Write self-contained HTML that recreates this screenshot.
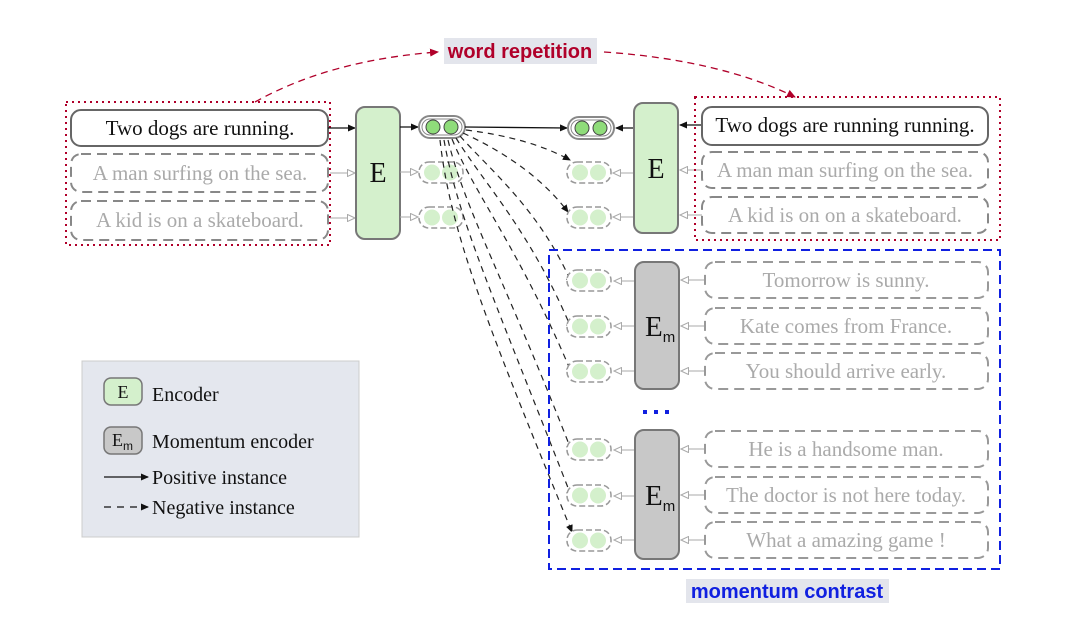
<!DOCTYPE html>
<html><head><meta charset="utf-8"><style>
html,body{margin:0;padding:0;background:#fff;}
svg{display:block;}
text{font-family:"Liberation Serif",serif;}
</style></head><body>
<svg width="1080" height="629" viewBox="0 0 1080 629" xmlns="http://www.w3.org/2000/svg">
<defs>
<marker id="ab" markerWidth="8" markerHeight="8" refX="7" refY="4" orient="auto" markerUnits="userSpaceOnUse"><path d="M0,0.5 L8,4 L0,7.5z" fill="#111"/></marker>
<marker id="ar" markerWidth="9" markerHeight="9" refX="8" refY="4.5" orient="auto" markerUnits="userSpaceOnUse"><path d="M0,0.5 L9,4.5 L0,8.5z" fill="#b0002a"/></marker>
<marker id="ag" markerWidth="9" markerHeight="8" refX="8" refY="4" orient="auto" markerUnits="userSpaceOnUse"><path d="M0.5,0.5 L8,4 L0.5,7.5z" fill="#fff" stroke="#aaa" stroke-width="1"/></marker>
<g id="pos"><rect x="0" y="0" width="46" height="22" rx="11" fill="#fff" stroke="#888" stroke-width="2"/><rect x="3" y="3" width="40" height="16" rx="8" fill="none" stroke="#888" stroke-width="1"/><circle cx="14" cy="11" r="7" fill="#8fdc7a" stroke="#444" stroke-width="1"/><circle cx="32" cy="11" r="7" fill="#8fdc7a" stroke="#444" stroke-width="1"/></g>
<g id="neg"><rect x="0" y="0" width="44" height="21" rx="10" fill="#fff" stroke="#999" stroke-width="1.5" stroke-dasharray="6,3"/><circle cx="13" cy="10.5" r="8" fill="#d4f0cc"/><circle cx="31" cy="10.5" r="8" fill="#d4f0cc"/></g>
</defs>

<rect x="444" y="38" width="153" height="26" fill="#e3e5ec"/>
<text x="520" y="58" text-anchor="middle" font-weight="bold" font-size="20" fill="#b0002a" style="font-family:'Liberation Sans',sans-serif">word repetition</text>
<path d="M255 102 Q330 60 438 52" fill="none" stroke="#b0002a" stroke-width="1.3" stroke-dasharray="7,5" marker-end="url(#ar)"/>
<path d="M604 52 Q720 60 795 97" fill="none" stroke="#b0002a" stroke-width="1.3" stroke-dasharray="7,5" marker-end="url(#ar)"/>

<rect x="66" y="102" width="264" height="143" fill="none" stroke="#b0002a" stroke-width="2" stroke-dasharray="2,4"/>
<rect x="71" y="110" width="257" height="36" rx="10" fill="#fff" stroke="#666" stroke-width="2"/>
<text x="200" y="135" text-anchor="middle" font-size="21" fill="#111">Two dogs are running.</text>
<rect x="71" y="154" width="257" height="38" rx="10" fill="#fff" stroke="#888" stroke-width="2" stroke-dasharray="10,6"/>
<text x="200" y="180" text-anchor="middle" font-size="21" fill="#aaa">A man surfing on the sea.</text>
<rect x="71" y="201" width="257" height="39" rx="10" fill="#fff" stroke="#888" stroke-width="2" stroke-dasharray="10,6"/>
<text x="200" y="227" text-anchor="middle" font-size="21" fill="#aaa">A kid is on a skateboard.</text>

<line x1="328" y1="128" x2="355" y2="128" stroke="#111" stroke-width="1.3" marker-end="url(#ab)"/>
<line x1="330" y1="173" x2="355" y2="173" stroke="#aaa" stroke-width="1" marker-end="url(#ag)"/>
<line x1="330" y1="218" x2="355" y2="218" stroke="#aaa" stroke-width="1" marker-end="url(#ag)"/>

<rect x="356" y="107" width="44" height="132" rx="9" fill="#d4f0cc" stroke="#777" stroke-width="2"/>
<text x="378" y="182" text-anchor="middle" font-size="28" fill="#111">E</text>

<line x1="400" y1="127" x2="418" y2="127" stroke="#111" stroke-width="1.3" marker-end="url(#ab)"/>
<line x1="400" y1="172" x2="418" y2="172" stroke="#aaa" stroke-width="1" marker-end="url(#ag)"/>
<line x1="400" y1="217" x2="418" y2="217" stroke="#aaa" stroke-width="1" marker-end="url(#ag)"/>
<use href="#pos" x="419" y="116"/>
<use href="#neg" x="419" y="162"/>
<use href="#neg" x="419" y="207"/>

<line x1="465" y1="127" x2="567" y2="128" stroke="#111" stroke-width="1.3" marker-end="url(#ab)"/>

<g fill="none" stroke="#222" stroke-width="1.2" stroke-dasharray="6,5" marker-end="url(#ab)">
<path d="M466 130 Q530 138 570 160"/>
<path d="M463 133 C500 150 540 175 568 212"/>
<path d="M460 136 C490 170 540 210 572 284"/>
<path d="M456 138 C485 185 530 230 572 330"/>
<path d="M452 139 C475 195 520 250 572 374"/>
<path d="M448 140 C465 210 505 280 572 452"/>
<path d="M444 140 C458 220 495 300 572 498"/>
<path d="M440 140 C450 230 485 320 572 532"/>
</g>

<use href="#pos" x="568" y="117"/>
<use href="#neg" x="567" y="162"/>
<use href="#neg" x="567" y="207"/>
<line x1="634" y1="128" x2="616" y2="128" stroke="#111" stroke-width="1.3" marker-end="url(#ab)"/>
<line x1="634" y1="173" x2="613" y2="173" stroke="#aaa" stroke-width="1" marker-end="url(#ag)"/>
<line x1="634" y1="217" x2="613" y2="217" stroke="#aaa" stroke-width="1" marker-end="url(#ag)"/>
<rect x="634" y="103" width="44" height="130" rx="9" fill="#d4f0cc" stroke="#777" stroke-width="2"/>
<text x="656" y="178" text-anchor="middle" font-size="28" fill="#111">E</text>
<line x1="702" y1="125" x2="680" y2="125" stroke="#111" stroke-width="1.3" marker-end="url(#ab)"/>
<line x1="702" y1="170" x2="680" y2="170" stroke="#aaa" stroke-width="1" marker-end="url(#ag)"/>
<line x1="702" y1="215" x2="680" y2="215" stroke="#aaa" stroke-width="1" marker-end="url(#ag)"/>

<rect x="695" y="97" width="305" height="143" fill="none" stroke="#b0002a" stroke-width="2" stroke-dasharray="2,4"/>
<rect x="702" y="107" width="286" height="38" rx="10" fill="#fff" stroke="#666" stroke-width="2"/>
<text x="845" y="132" text-anchor="middle" font-size="21" fill="#111">Two dogs are running running.</text>
<rect x="702" y="152" width="286" height="36" rx="10" fill="#fff" stroke="#888" stroke-width="2" stroke-dasharray="10,6"/>
<text x="845" y="177" text-anchor="middle" font-size="21" fill="#aaa">A man man surfing on the sea.</text>
<rect x="702" y="197" width="286" height="36" rx="10" fill="#fff" stroke="#888" stroke-width="2" stroke-dasharray="10,6"/>
<text x="845" y="222" text-anchor="middle" font-size="21" fill="#aaa">A kid is on on a skateboard.</text>

<rect x="549" y="250" width="451" height="319" fill="none" stroke="#1020e0" stroke-width="2" stroke-dasharray="9,5"/>

<g>
<use href="#neg" x="567" y="270"/><use href="#neg" x="567" y="316"/><use href="#neg" x="567" y="361"/>
<use href="#neg" x="567" y="439"/><use href="#neg" x="567" y="485"/><use href="#neg" x="567" y="530"/>
</g>
<g stroke="#aaa" stroke-width="1">
<line x1="635" y1="281" x2="614" y2="281" marker-end="url(#ag)"/>
<line x1="635" y1="326" x2="614" y2="326" marker-end="url(#ag)"/>
<line x1="635" y1="371" x2="614" y2="371" marker-end="url(#ag)"/>
<line x1="635" y1="450" x2="614" y2="450" marker-end="url(#ag)"/>
<line x1="635" y1="496" x2="614" y2="496" marker-end="url(#ag)"/>
<line x1="635" y1="540" x2="614" y2="540" marker-end="url(#ag)"/>
<line x1="705" y1="280" x2="681" y2="280" marker-end="url(#ag)"/>
<line x1="705" y1="326" x2="681" y2="326" marker-end="url(#ag)"/>
<line x1="705" y1="371" x2="681" y2="371" marker-end="url(#ag)"/>
<line x1="705" y1="449" x2="681" y2="449" marker-end="url(#ag)"/>
<line x1="705" y1="495" x2="681" y2="495" marker-end="url(#ag)"/>
<line x1="705" y1="540" x2="681" y2="540" marker-end="url(#ag)"/>
</g>
<rect x="635" y="262" width="44" height="127" rx="9" fill="#c8c8c8" stroke="#777" stroke-width="2"/>
<text x="645" y="336" font-size="29" fill="#111">E<tspan font-size="15" font-family="Liberation Sans" dy="6">m</tspan></text>
<rect x="635" y="430" width="44" height="129" rx="9" fill="#c8c8c8" stroke="#777" stroke-width="2"/>
<text x="645" y="505" font-size="29" fill="#111">E<tspan font-size="15" font-family="Liberation Sans" dy="6">m</tspan></text>
<g fill="#1020e0"><rect x="643" y="410" width="4" height="4"/><rect x="654" y="410" width="4" height="4"/><rect x="665" y="410" width="4" height="4"/></g>

<g fill="#fff" stroke="#999" stroke-width="2" stroke-dasharray="10,6">
<rect x="705" y="262" width="283" height="36" rx="10"/>
<rect x="705" y="308" width="283" height="36" rx="10"/>
<rect x="705" y="353" width="283" height="36" rx="10"/>
<rect x="705" y="431" width="283" height="36" rx="10"/>
<rect x="705" y="477" width="283" height="36" rx="10"/>
<rect x="705" y="522" width="283" height="36" rx="10"/>
</g>
<g font-size="21" fill="#aaa" text-anchor="middle">
<text x="846" y="287">Tomorrow is sunny.</text>
<text x="846" y="333">Kate comes from France.</text>
<text x="846" y="378">You should arrive early.</text>
<text x="846" y="456">He is a handsome man.</text>
<text x="846" y="502">The doctor is not here today.</text>
<text x="846" y="547">What a amazing game !</text>
</g>

<rect x="686" y="579" width="203" height="24" fill="#e3e5ec"/>
<text x="787" y="598" text-anchor="middle" font-weight="bold" font-size="20" fill="#1020e0" style="font-family:'Liberation Sans',sans-serif">momentum contrast</text>

<rect x="82" y="361" width="277" height="176" fill="#e4e7ee" stroke="#ccc" stroke-width="1"/>
<rect x="104" y="378" width="38" height="27" rx="7" fill="#d4f0cc" stroke="#777" stroke-width="1.5"/>
<text x="123" y="398" text-anchor="middle" font-size="18" fill="#111">E</text>
<text x="152" y="401" font-size="20" fill="#111">Encoder</text>
<rect x="104" y="427" width="38" height="27" rx="7" fill="#c8c8c8" stroke="#777" stroke-width="1.5"/>
<text x="112" y="446" font-size="18" fill="#111">E<tspan font-size="12" font-family="Liberation Sans" dy="4">m</tspan></text>
<text x="152" y="448" font-size="20" fill="#111">Momentum encoder</text>
<line x1="104" y1="477" x2="148" y2="477" stroke="#111" stroke-width="1.3" marker-end="url(#ab)"/>
<text x="152" y="484" font-size="20" fill="#111">Positive instance</text>
<line x1="104" y1="507" x2="148" y2="507" stroke="#111" stroke-width="1.3" stroke-dasharray="7,6" marker-end="url(#ab)"/>
<text x="152" y="514" font-size="20" fill="#111">Negative instance</text>
</svg>
</body></html>
